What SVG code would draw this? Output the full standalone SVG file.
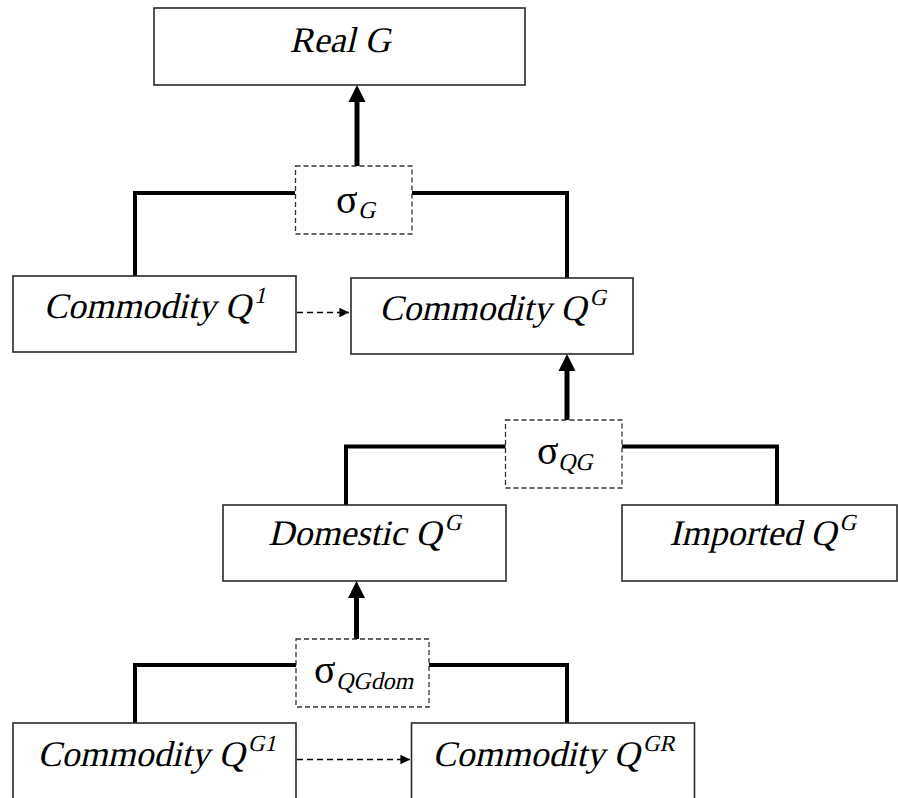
<svg xmlns="http://www.w3.org/2000/svg" width="898" height="798" viewBox="0 0 898 798">
<style>
  .box { fill: #fff; stroke: #2a2a2a; stroke-width: 1.6; }
  .sig { fill: #fff; stroke: #333; stroke-width: 1.3; stroke-dasharray: 5 3; }
  .lbl { font-family: 'Liberation Serif', 'Times New Roman', serif; font-style: normal; font-size: 36px; fill: #000; text-anchor: middle; }
  .greek { font-family: 'Liberation Serif', 'Times New Roman', serif; font-size: 40px; fill: #000; }
  .subt { font-family: 'Liberation Serif', 'Times New Roman', serif; font-size: 24px; fill: #000; }
  .sup { font-size: 23px; }
  .tree { fill: none; stroke: #000; stroke-width: 4; stroke-linejoin: miter; }
  .shaft { stroke: #000; stroke-width: 5; }
  .dash { stroke: #000; stroke-width: 1.6; stroke-dasharray: 6 4; }
</style>
<defs>
  <marker id="small" viewBox="0 0 10 10" refX="10" refY="5" markerWidth="6" markerHeight="6" orient="auto" markerUnits="strokeWidth">
    <path d="M0,0 L10,5 L0,10 z" fill="#000"/>
  </marker>
</defs>

<g id="connectors">
  <path class="tree" d="M295,193 H135 V277"/>
  <path class="tree" d="M412,193 H567 V279"/>
  <path class="tree" d="M506,446.5 H346 V506"/>
  <path class="tree" d="M622,446.5 H777 V506"/>
  <path class="tree" d="M296,665 H135 V724"/>
  <path class="tree" d="M429,665 H567 V724"/>

  <line class="shaft" x1="357" y1="166" x2="357" y2="100"/>
  <path d="M357,85 L365.5,102 L348.5,102 z" fill="#000"/>
  <line class="shaft" x1="567" y1="420" x2="567" y2="368"/>
  <path d="M567,354 L575.5,371 L558.5,371 z" fill="#000"/>
  <line class="shaft" x1="356.5" y1="639" x2="356.5" y2="596"/>
  <path d="M356.5,581 L365,598 L348,598 z" fill="#000"/>

  <line class="dash" x1="297" y1="312.5" x2="349" y2="312.5" marker-end="url(#small)"/>
  <line class="dash" x1="297" y1="759.5" x2="410" y2="759.5" marker-end="url(#small)"/>
</g>

<g id="realG">
  <rect class="box" x="154" y="8" width="371" height="77"/>
  <text class="lbl" transform="translate(340,52) skewX(-13)">Real G</text>
</g>

<g id="sigmaG">
  <rect class="sig" x="295.5" y="166" width="116.5" height="68"/>
  <text class="greek" x="336" y="213">σ</text>
  <text class="subt" transform="translate(358,218) skewX(-13)">G</text>
</g>

<g id="commodityQ1">
  <rect class="box" x="13" y="276" width="283" height="76"/>
  <text class="lbl" transform="translate(153,318) skewX(-13)">Commodity Q<tspan class="sup" dy="-15">1</tspan></text>
</g>

<g id="commodityQG">
  <rect class="box" x="351" y="278" width="282" height="76"/>
  <text class="lbl" transform="translate(491,320) skewX(-13)">Commodity Q<tspan class="sup" dy="-15">G</tspan></text>
</g>

<g id="sigmaQG">
  <rect class="sig" x="505.5" y="420" width="116.5" height="68"/>
  <text class="greek" x="537" y="464">σ</text>
  <text class="subt" transform="translate(558,470) skewX(-13)">QG</text>
</g>

<g id="domesticQG">
  <rect class="box" x="223" y="505" width="283" height="76"/>
  <text class="lbl" transform="translate(363,545) skewX(-13)">Domestic Q<tspan class="sup" dy="-15">G</tspan></text>
</g>

<g id="importedQG">
  <rect class="box" x="622" y="505" width="275" height="76"/>
  <text class="lbl" transform="translate(761,545) skewX(-13)">Imported Q<tspan class="sup" dy="-15">G</tspan></text>
</g>

<g id="sigmaQGdom">
  <rect class="sig" x="296" y="639" width="133" height="68"/>
  <text class="greek" x="314" y="683">σ</text>
  <text class="subt" transform="translate(336,689) skewX(-13)">QGdom</text>
</g>

<g id="commodityQG1">
  <rect class="box" x="13" y="723" width="283" height="90"/>
  <text class="lbl" transform="translate(155,766) skewX(-13)">Commodity Q<tspan class="sup" dy="-15">G1</tspan></text>
</g>

<g id="commodityQGR">
  <rect class="box" x="411.5" y="723" width="283" height="90"/>
  <text class="lbl" transform="translate(552,766) skewX(-13)">Commodity Q<tspan class="sup" dy="-15">GR</tspan></text>
</g>
</svg>
